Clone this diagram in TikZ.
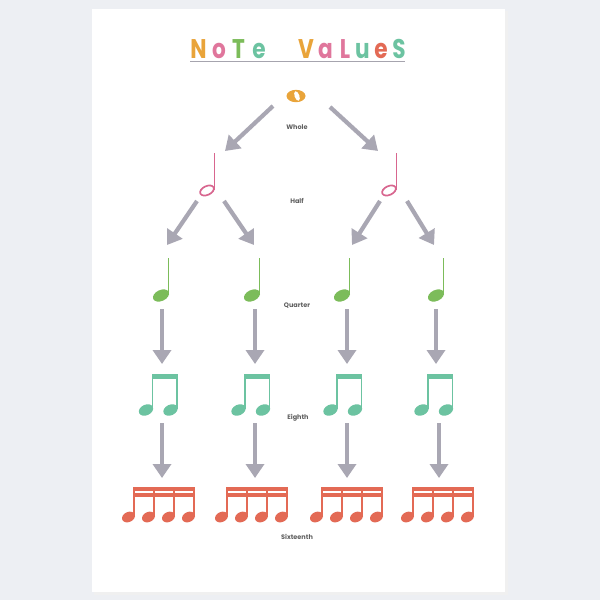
\documentclass[tikz,border=0pt]{standalone}
\usepackage{fontspec}
\setmainfont{Poppins}
\usetikzlibrary{arrows.meta}
\definecolor{bgc}{HTML}{EDEFF3}
\definecolor{arrowc}{HTML}{A9A7B3}
\definecolor{linec}{HTML}{A6A4AE}
\definecolor{labc}{HTML}{606060}
\definecolor{orangec}{HTML}{E9A43A}
\definecolor{pinkc}{HTML}{E0769C}
\definecolor{halfc}{HTML}{D8668F}
\definecolor{greenc}{HTML}{7CBC5A}
\definecolor{tealc}{HTML}{6CC3A1}
\definecolor{coralc}{HTML}{E36A55}
\tikzset{
  arr/.style={draw=arrowc, line width=4.2pt, -{Triangle[length=14pt 0 0, width=18pt 0 0]}},
  lab/.style={font=\fontsize{6.5}{7}\selectfont\bfseries, text=labc, inner sep=0pt},
  ttl/.style={anchor=base, font=\fontsize{27}{27}\selectfont\bfseries, inner sep=0pt, xscale=0.8},
  halfnote/.pic={
    \draw[halfc, line width=1.7pt, rotate=25] (0,0) ellipse [x radius=7.3, y radius=4.4];
    \draw[halfc, line width=1.3pt] (7.6,-1) -- (7.6,-38);
  },
  quarternote/.pic={
    \fill[greenc, rotate=25] (0,0) ellipse [x radius=8.5, y radius=5.5];
    \draw[greenc, line width=1.5pt] (7.3,-1) -- (7.3,-38);
  },
  eighthnote/.pic={
    \fill[tealc, rotate=25] (0,0) ellipse [x radius=7.5, y radius=5.3];
    \fill[tealc, shift={(24.5,0)}, rotate=25] (0,0) ellipse [x radius=7.5, y radius=5.3];
    \draw[tealc, line width=1.4pt] (6.6,-1) -- (6.6,-35.5) (31.1,-1) -- (31.1,-35.5);
    \fill[tealc] (5.9,-36) rectangle (31.8,-31.5);
  },
  sixteenthnote/.pic={
    \foreach \k in {0,20,40,60}{
      \fill[coralc, shift={(\k,0)}, rotate=25] (0,0) ellipse [x radius=6.8, y radius=5];
      \draw[coralc, line width=1.2pt] (\k+5.5,-1) -- (\k+5.5,-30);
    }
    \fill[coralc] (4.9,-30.3) rectangle (66.1,-25.6);
    \fill[coralc] (4.9,-24.3) rectangle (66.1,-20.3);
  }
}
\begin{document}
\begin{tikzpicture}[x=1pt,y=-1pt]
\useasboundingbox (0,0) rectangle (600,600);
% background and poster
\fill[bgc] (0,0) rectangle (600,600);
\fill[black!6] (94,11) rectangle (507.5,594.5);
\fill[white] (92,9) rectangle (505,592);

% title
\node[ttl, text=orangec] (t1) at (198.5,58) {N};
\node[ttl, text=pinkc]   (t2) at (219,58) {o};
\node[ttl, text=greenc]  (t3) at (238.5,58) {T};
\node[ttl, text=tealc]   (t4) at (259,58) {e};
\node[ttl, text=orangec] (t5) at (306,58) {V};
\node[ttl, text=pinkc]   (t6) at (325.5,58) {a};
\node[ttl, text=pinkc]   (t7) at (345,58) {L};
\node[ttl, text=tealc]   (t8) at (362.5,58) {u};
\node[ttl, text=coralc]  (t9) at (381,58) {e};
\node[ttl, text=tealc]   (t10) at (399,58) {S};
\coordinate (ulA) at (190,61.5);
\coordinate (ulB) at (405,61.5);
\draw[linec, line width=1.8pt] (ulA) -- (ulB);

% whole note
\fill[orangec] (296,96) ellipse [x radius=9.5, y radius=6.2];
\fill[white, rotate around={20:(297,96)}] (297,96) ellipse [x radius=2.4, y radius=5];

% labels
\node[lab] (lw) at (297,127) {Whole};
\node[lab] (lh) at (297,201) {Half};
\node[lab] (lq) at (297,306) {Quarter};
\node[lab] (le) at (298,418) {Eighth};
\node[lab] (ls) at (297,537) {Sixteenth};

% notes
\pic at (207,190.5) {halfnote};
\pic at (389,190.5) {halfnote};
\foreach \x in {161,252,342,436}{\pic at (\x,295.5) {quarternote};}
\foreach \x in {146,238.5,330.5,421.5}{\pic at (\x,410) {eighthnote};}
\foreach \x in {128.5,221.5,316.5,407.5}{\pic at (\x,517) {sixteenthnote};}

% arrow end points
\coordinate (wA1) at (273,106); \coordinate (wB1) at (225,151);
\coordinate (wA2) at (330,107); \coordinate (wB2) at (378,151);
\coordinate (hA1) at (197,201); \coordinate (hB1) at (167,245);
\coordinate (hA2) at (224,201); \coordinate (hB2) at (254,245);
\coordinate (hA3) at (380,201); \coordinate (hB3) at (352,245);
\coordinate (hA4) at (407,201); \coordinate (hB4) at (434,245);
\coordinate (qA1) at (162,309); \coordinate (qB1) at (162,364);
\coordinate (qA2) at (255,309); \coordinate (qB2) at (255,364);
\coordinate (qA3) at (347,309); \coordinate (qB3) at (347,364);
\coordinate (qA4) at (436,309); \coordinate (qB4) at (436,364);
\coordinate (eA1) at (162,423); \coordinate (eB1) at (162,478);
\coordinate (eA2) at (255,423); \coordinate (eB2) at (255,478);
\coordinate (eA3) at (347,423); \coordinate (eB3) at (347,478);
\coordinate (eA4) at (439,423); \coordinate (eB4) at (439,478);

\draw[arr] (wA1) -- (wB1);
\draw[arr] (wA2) -- (wB2);
\draw[arr] (hA1) -- (hB1);
\draw[arr] (hA2) -- (hB2);
\draw[arr] (hA3) -- (hB3);
\draw[arr] (hA4) -- (hB4);
\draw[arr] (qA1) -- (qB1);
\draw[arr] (qA2) -- (qB2);
\draw[arr] (qA3) -- (qB3);
\draw[arr] (qA4) -- (qB4);
\draw[arr] (eA1) -- (eB1);
\draw[arr] (eA2) -- (eB2);
\draw[arr] (eA3) -- (eB3);
\draw[arr] (eA4) -- (eB4);
\end{tikzpicture}
\end{document}
